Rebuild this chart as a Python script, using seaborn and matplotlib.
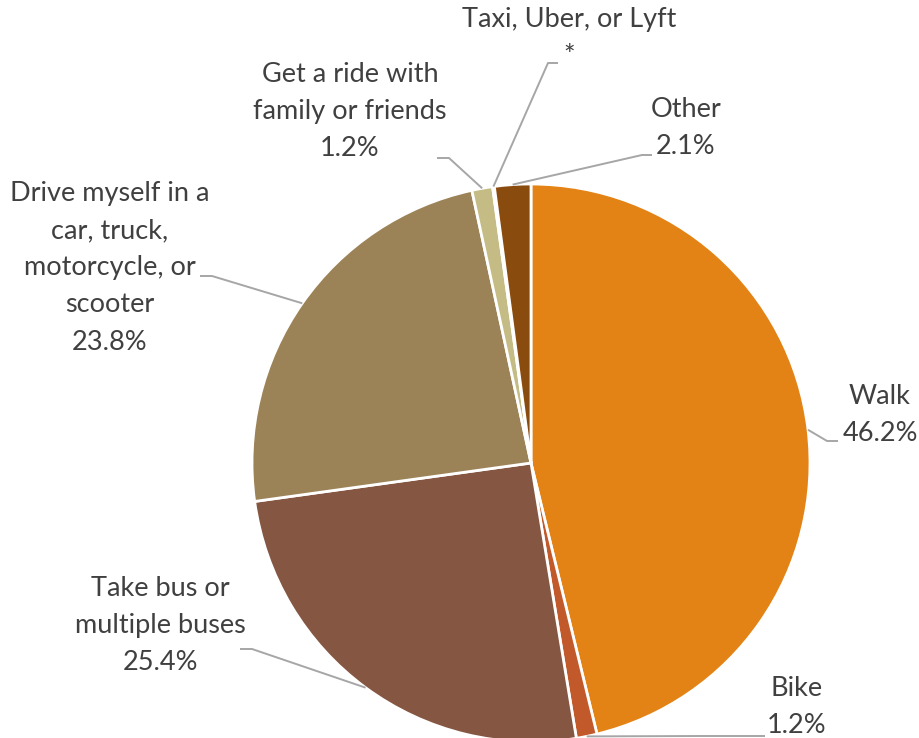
import numpy as np
import matplotlib
matplotlib.use("Agg")
import matplotlib.pyplot as plt
import seaborn as sns

# ---- data ----
categories = ["Walk", "Bike", "Take bus or\nmultiple buses",
              "Drive myself in a\ncar, truck,\nmotorcycle, or\nscooter",
              "Get a ride with\nfamily or friends", "Taxi, Uber, or Lyft", "Other"]
values = [46.2, 1.2, 25.4, 23.8, 1.2, 0.1, 2.1]
value_labels = ["46.2%", "1.2%", "25.4%", "23.8%", "1.2%", "*", "2.1%"]
colors = ["#E48315", "#C2592A", "#855642", "#9C8357", "#C4BC84", "#B5772F", "#8A4B0E"]

# ---- layout (pixels of a 919x738 canvas) ----
W, H = 919, 738
CX, CY, R = 531, 463, 279
label_centers = [(880, 415), (797, 707), (160, 626), (110, 268), (350, 112), (569, 38), (686, 128)]
leader_elbows = [  # (elbow, end) points in px
    [(827, 441), (838, 441)],
    [(700, 736), (765, 736)],
    [(252, 649), (240, 649)],
    [(212, 276), (200, 276)],
    [(449, 158), (437, 158)],
    [(548, 63), (558, 63)],
    [(642, 155), (652, 155)],
]

def to_data(p):
    return ((p[0] - CX) / R, (CY - p[1]) / R)

sns.set_theme(style="white")
plt.rcParams["font.family"] = ["Lato", "DejaVu Sans"]

fig = plt.figure(figsize=(W / 100, H / 100), dpi=100)
ax = fig.add_axes([0, 0, 1, 1])
wedges, _ = ax.pie(values, colors=colors, startangle=90, counterclock=False,
                   radius=1, center=(0, 0),
                   wedgeprops=dict(edgecolor="white", linewidth=2.0))
ax.set_xlim(-CX / R, (W - CX) / R)
ax.set_ylim(-(H - CY) / R, CY / R)
ax.set_aspect("auto")
ax.axis("off")

total = sum(values)
cum = np.cumsum([0] + values)
for i, (cat, vl) in enumerate(zip(categories, value_labels)):
    mid = (cum[i] + cum[i + 1]) / 2 / total
    ang = np.deg2rad(90 - 360 * mid)
    edge = (np.cos(ang), np.sin(ang))
    pts = [edge] + [to_data(p) for p in leader_elbows[i]]
    xs, ys = zip(*pts)
    ax.plot(xs, ys, color="#A6A6A6", lw=1.4, solid_capstyle="butt", zorder=1)
    tx, ty = to_data(label_centers[i])
    ax.text(tx, ty, f"{cat}\n{vl}", ha="center", va="center", fontsize=19.5,
            color="#404040", linespacing=1.6)

fig.savefig("out.png", dpi=100)
